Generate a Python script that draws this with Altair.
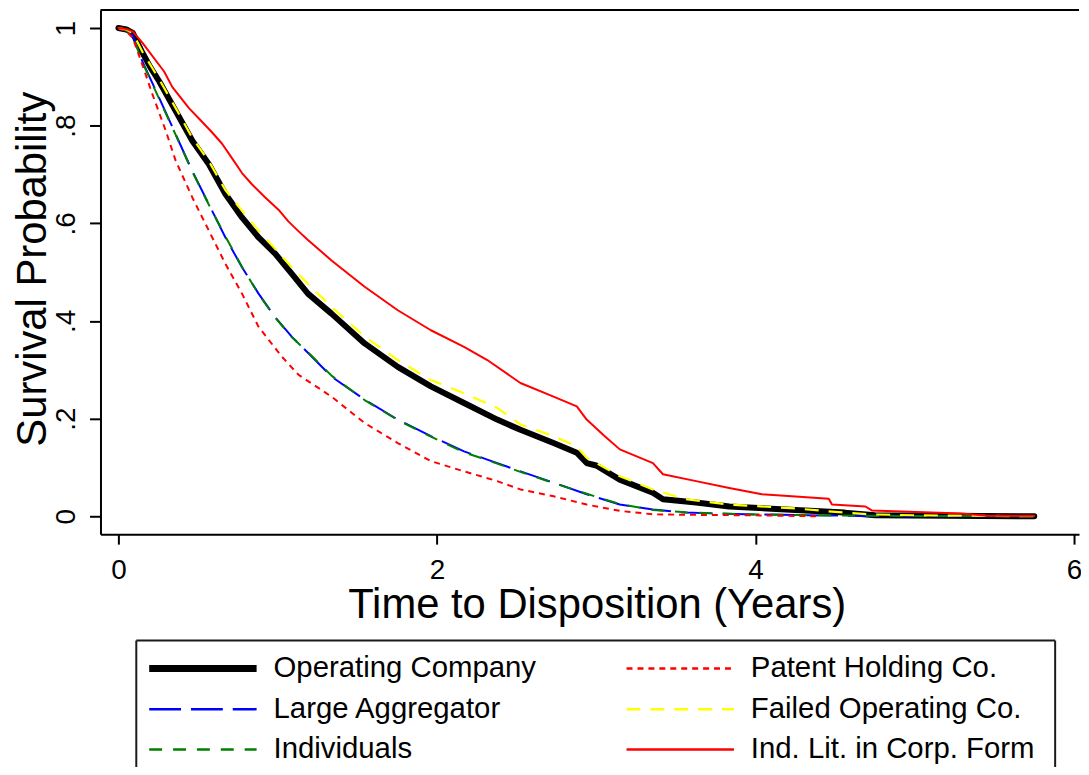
import altair as alt
import pandas as pd

FONT = "Liberation Sans"

series_names = [
    "Operating Company",
    "Large Aggregator",
    "Individuals",
    "Patent Holding Co.",
    "Failed Operating Co.",
    "Ind. Lit. in Corp. Form",
]

# --- survival curves (time in years, survival probability) ---
op_t = [0, 0.05, 0.09, 0.15, 0.2, 0.256, 0.36, 0.464, 0.568, 0.672, 0.776, 0.88, 0.984,
        1.088, 1.19, 1.338, 1.546, 1.754, 1.962, 2.17, 2.378, 2.524, 2.732, 2.878, 2.94,
        3.0, 3.148, 3.356, 3.419, 3.627, 3.835, 4.25, 4.56, 4.75, 5.75]
op_s = [1.0, 0.997, 0.99, 0.95, 0.92, 0.891, 0.83, 0.769, 0.721, 0.66, 0.612, 0.571, 0.538,
        0.497, 0.456, 0.415, 0.354, 0.306, 0.266, 0.232, 0.198, 0.177, 0.150, 0.13, 0.109,
        0.104, 0.075, 0.048, 0.035, 0.028, 0.020, 0.013, 0.0075, 0.002, 0.0]

la_t = [0, 0.05, 0.09, 0.15, 0.256, 0.36, 0.464, 0.568, 0.672, 0.776, 0.88, 0.984, 1.088,
        1.19, 1.338, 1.546, 1.754, 1.962, 2.17, 2.316, 2.524, 2.732, 2.94, 3.148, 3.356,
        3.56, 3.94, 4.67, 5.75]
la_s = [1.0, 0.995, 0.985, 0.932, 0.857, 0.782, 0.707, 0.639, 0.571, 0.51, 0.456, 0.408, 0.368,
        0.335, 0.286, 0.239, 0.198, 0.164, 0.133, 0.116, 0.092, 0.069, 0.045, 0.024, 0.014,
        0.0075, 0.004, 0.0006, 0.0]

ind_t = [0, 0.05, 0.09, 0.15, 0.256, 0.36, 0.464, 0.568, 0.672, 0.776, 0.88, 0.984, 1.088,
         1.19, 1.338, 1.546, 1.754, 1.962, 2.17, 2.316, 2.524, 2.732, 2.94, 3.148, 3.356,
         3.56, 3.94, 4.67, 5.75]
ind_s = [1.0, 0.995, 0.984, 0.93, 0.855, 0.781, 0.706, 0.638, 0.573, 0.511, 0.455, 0.407, 0.367,
         0.336, 0.288, 0.238, 0.197, 0.163, 0.131, 0.115, 0.091, 0.068, 0.046, 0.025, 0.013,
         0.008, 0.004, 0.001, 0.0]

ph_t = [0, 0.05, 0.09, 0.15, 0.214, 0.298, 0.36, 0.464, 0.568, 0.672, 0.776, 0.88, 1.026,
        1.13, 1.338, 1.546, 1.754, 1.962, 2.17, 2.378, 2.524, 2.732, 2.94, 3.148, 3.356,
        3.56, 3.96, 4.4]
ph_s = [1.0, 0.993, 0.98, 0.925, 0.864, 0.789, 0.728, 0.653, 0.585, 0.517, 0.456, 0.388, 0.327,
        0.29, 0.245, 0.191, 0.15, 0.113, 0.092, 0.072, 0.055, 0.041, 0.024, 0.011, 0.004,
        0.003, 0.002, 0.0]

fo_t = [0, 0.05, 0.09, 0.15, 0.256, 0.36, 0.464, 0.568, 0.672, 0.776, 0.88, 0.984, 1.088,
        1.19, 1.338, 1.546, 1.754, 1.962, 2.17, 2.378, 2.524, 2.732, 2.878, 2.94, 3.148,
        3.356, 3.56, 3.835, 4.25, 4.5, 4.71, 5.0, 5.75]
fo_s = [1.0, 0.997, 0.99, 0.952, 0.895, 0.836, 0.775, 0.727, 0.668, 0.626, 0.585, 0.548, 0.51,
        0.476, 0.429, 0.368, 0.32, 0.279, 0.252, 0.222, 0.188, 0.164, 0.143, 0.12, 0.082,
        0.055, 0.035, 0.024, 0.016, 0.009, 0.004, 0.002, 0.0]

il_t = [0, 0.05, 0.09, 0.15, 0.287, 0.339, 0.443, 0.516, 0.589, 0.651, 0.714, 0.776, 0.838,
        0.922, 1.005, 1.067, 1.13, 1.19, 1.338, 1.546, 1.754, 1.962, 2.17, 2.316, 2.524,
        2.732, 2.878, 2.94, 3.05, 3.148, 3.356, 3.419, 3.627, 3.835, 4.04, 4.46, 4.48, 4.69,
        4.73, 5.29, 5.46, 5.75]
il_s = [1.0, 0.998, 0.993, 0.97, 0.911, 0.879, 0.836, 0.811, 0.786, 0.763, 0.733, 0.703, 0.680,
        0.653, 0.628, 0.604, 0.584, 0.566, 0.524, 0.47, 0.422, 0.381, 0.347, 0.32, 0.273,
        0.245, 0.225, 0.198, 0.165, 0.137, 0.109, 0.086, 0.072, 0.058, 0.045, 0.036, 0.024,
        0.020, 0.012, 0.0055, 0.001, 0.001]

curves = [(op_t, op_s), (la_t, la_s), (ind_t, ind_s), (ph_t, ph_s), (fo_t, fo_s), (il_t, il_s)]

# --- styles ---
colors = ["#000000", "#0000FF", "#008000", "#FF0000", "#FFFF00", "#FF0000"]
dashes = [None, [32, 10], [13, 11], [6, 5], [14, 10], None]
widths = [6, 2, 2, 2, 2.2, 2]
legend_widths = [7, 2.5, 2.5, 2.5, 2.5, 2.5]
caps = ["round", "butt", "butt", "butt", "butt", "round"]

# legend arrangement (column, row)
legend_col = [0, 0, 0, 1, 1, 1]
legend_row = [0, 1, 2, 0, 1, 2]

rows = []
for name, (ts, ss) in zip(series_names, curves):
    for t, s in zip(ts, ss):
        rows.append({"series": name, "t": t, "s": s})
df = pd.DataFrame(rows)

# --- layout (plot area and scale extents) ---
W, H = 984, 527
X_MIN, X_MAX = -0.1124, 6.031
Y_MIN, Y_MAX = -0.0367, 1.0367
x_scale = alt.Scale(domain=[X_MIN, X_MAX], nice=False, zero=False)
y_scale = alt.Scale(domain=[Y_MIN, Y_MAX], nice=False, zero=False)

x_axis = alt.Axis(
    orient="bottom", values=[0, 2, 4, 6], format="d", grid=False,
    tickSize=10, tickWidth=2, domainWidth=2, labelFontSize=28, labelPadding=13,
    title="Time to Disposition (Years)", titleFontSize=42, titleFontWeight="normal",
    titleBaseline="alphabetic", titleX=499, titleY=84,
)
y_axis = alt.Axis(
    orient="left", values=[0, 0.2, 0.4, 0.6, 0.8, 1.0], grid=False,
    labelExpr="datum.value == 0 ? '0' : (datum.value == 1 ? '1' : replace(format(datum.value, '.1f'), '0.', '.'))",
    tickSize=11, tickWidth=2, domainWidth=2, labelFontSize=28, labelPadding=15,
    labelAngle=270, labelAlign="center", labelBaseline="alphabetic",
    title="Survival Probability", titleFontSize=42, titleFontWeight="normal",
    titleAngle=270, titleBaseline="alphabetic", titleX=-55, titleY=260,
)


def X(field):
    return alt.X(field, type="quantitative", scale=x_scale, axis=x_axis)


def Y(field):
    return alt.Y(field, type="quantitative", scale=y_scale, axis=y_axis)


layers = []

# top edge of the plot frame
top_df = pd.DataFrame({"x": [X_MIN], "x2": [X_MAX], "y": [Y_MAX]})
layers.append(
    alt.Chart(top_df).mark_rule(color="black", strokeWidth=2).encode(
        x=X("x"), x2="x2:Q", y=Y("y")
    )
)

for i, name in enumerate(series_names):
    mk = dict(color=colors[i], strokeWidth=widths[i], strokeCap=caps[i], strokeJoin="round")
    if dashes[i] is not None:
        mk["strokeDash"] = dashes[i]
    layers.append(
        alt.Chart(df)
        .transform_filter(alt.datum.series == name)
        .mark_line(**mk)
        .encode(x=X("t"), y=Y("s"), order=alt.Order("t:Q"))
    )

# --- legend box below the plot, placed through the same scales ---
sym_x0 = [0.1935, 3.1903]
sym_x1 = [0.8678, 3.8646]
lab_x = [0.9739, 3.9707]
row_y = [-0.3116, -0.3951, -0.4776]
box = dict(x0=0.1124, x1=5.8812, y0=-0.2546, y1=-0.56)

leg_df = pd.DataFrame({
    "series": series_names,
    "y": [row_y[r] for r in legend_row],
    "x0": [sym_x0[c] for c in legend_col],
    "x1": [sym_x1[c] for c in legend_col],
    "lx": [lab_x[c] for c in legend_col],
})

frame_df = pd.DataFrame({
    "x": [box["x0"], box["x0"], box["x1"]],
    "x2": [box["x1"], box["x0"], box["x1"]],
    "y": [box["y0"], box["y0"], box["y0"]],
    "y2": [box["y0"], box["y1"], box["y1"]],
})
layers.append(
    alt.Chart(frame_df).mark_rule(color="#1a1a1a", strokeWidth=2).encode(
        x=X("x"), x2="x2:Q", y=Y("y"), y2="y2:Q"
    )
)
for i, name in enumerate(series_names):
    mk = dict(color=colors[i], strokeWidth=legend_widths[i], strokeCap="butt")
    if dashes[i] is not None:
        mk["strokeDash"] = dashes[i]
    layers.append(
        alt.Chart(leg_df)
        .transform_filter(alt.datum.series == name)
        .mark_rule(**mk)
        .encode(x=X("x0"), x2="x1:Q", y=Y("y"))
    )
layers.append(
    alt.Chart(leg_df).mark_text(
        align="left", baseline="middle", font=FONT, fontSize=29.5, color="black"
    ).encode(x=X("lx"), y=Y("y"), text="series:N")
)

chart = (
    alt.layer(*layers)
    .properties(
        width=W, height=H,
        autosize=alt.AutoSizeParams(type="none"),
        padding={"left": 93, "top": 0, "right": 2, "bottom": 232},
    )
    .configure_view(stroke=None)
    .configure_axis(
        labelFont=FONT, titleFont=FONT, labelColor="black", titleColor="black",
        tickColor="black", domainColor="black",
    )
)

chart.save("out.html", embed_options={"renderer": "svg", "actions": False})
